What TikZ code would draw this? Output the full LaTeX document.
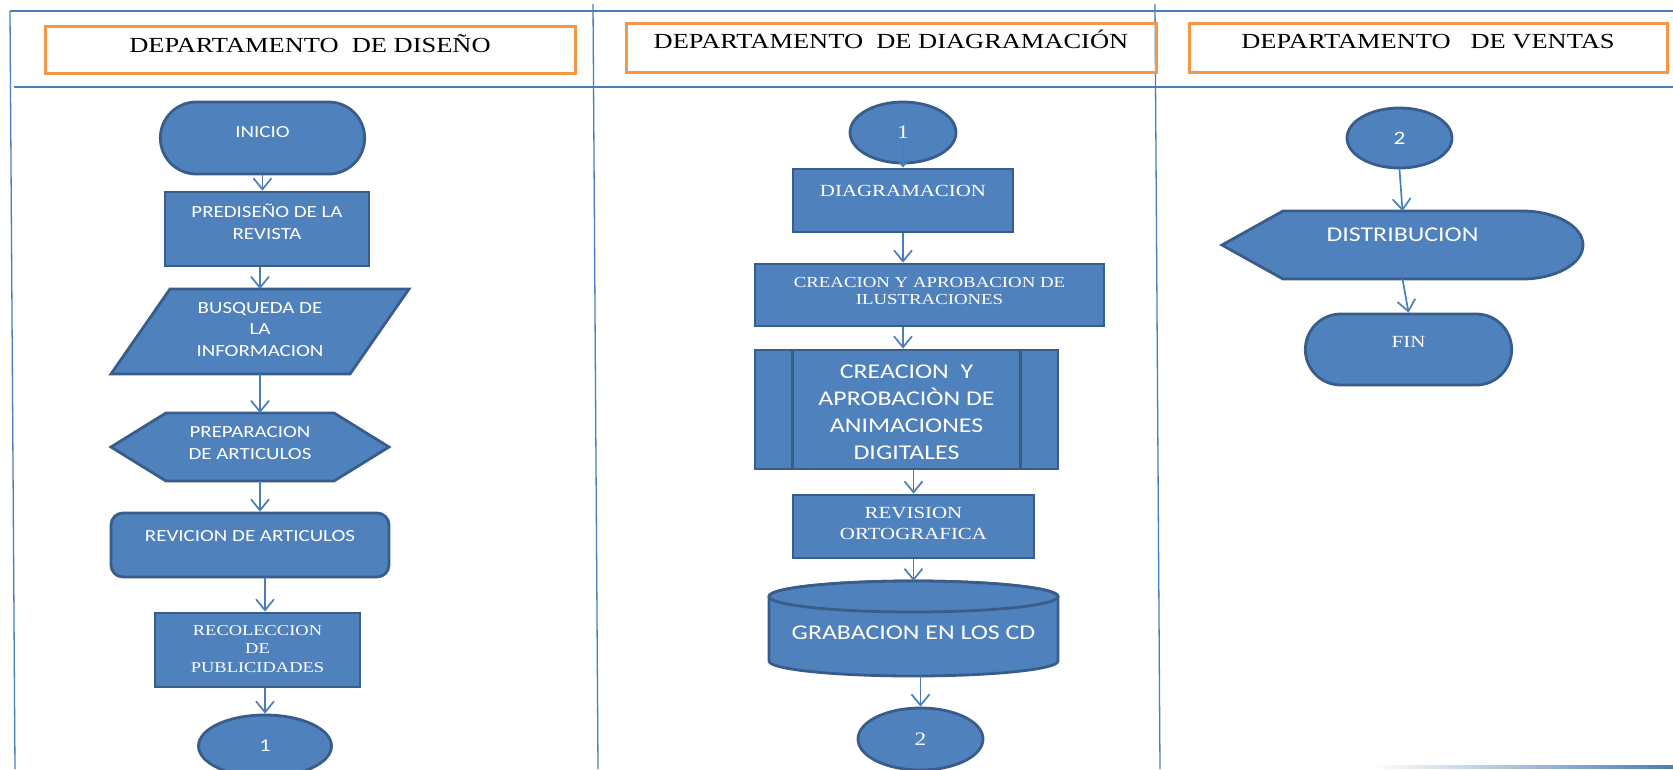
\documentclass[tikz,border=0pt]{standalone}
\usepackage{fontspec}
\setmainfont{Liberation Serif}[FakeStretch=1.23]
\newfontfamily\bodysans{Carlito}[FakeStretch=1.23]
\usetikzlibrary{arrows.meta,shapes.misc,shapes.geometric,calc,backgrounds}

\definecolor{shapefill}{HTML}{4F81BD}
\definecolor{shapeedge}{HTML}{385D8A}
\definecolor{rule}{HTML}{4A7EBB}
\definecolor{titleorange}{HTML}{F79646}

\tikzset{
  block/.style={rectangle, draw=shapeedge, fill=shapefill, line width=2.8pt, text=white, inner ysep=0pt, align=center},
  holder/.style={rectangle, inner ysep=0pt, outer sep=0pt, text=white, align=center},
  joint/.style={ellipse, draw=shapeedge, fill=shapefill, line width=2.8pt, text=white, inner sep=0pt},
  shapeline/.style={draw=shapeedge, fill=shapefill, line width=2.8pt},
  heading box/.style={rectangle, draw=titleorange, line width=3pt, inner ysep=0pt, font=\fontsize{21.5pt}{25pt}\selectfont},
  lane/.style={draw=rule, line width=1.3pt},
  flow/.style={->, draw=rule, line width=1.7pt},
  sans/.style 2 args={font=\bodysans\fontsize{#1pt}{#2pt}\selectfont},
  serif/.style 2 args={font=\fontsize{#1pt}{#2pt}\selectfont},
  tb/.style 2 args={text height=#1pt, text depth=#2pt},
}

\begin{document}
\begin{tikzpicture}[x=1pt, y=-1pt, >={Straight Barb[length=11pt,width=18pt]}]
  \useasboundingbox (0,0) rectangle (1673,769);
  \clip (0,0) rectangle (1673,769);

  % swimlanes
  \draw[lane] (10,11) -- (1673,11);
  \draw[lane] (10,11) -- (15,769);
  \draw[lane] (14,87) -- (1673,87);
  \draw[lane] (593,4) -- (598,769);
  \draw[lane] (1155,4) -- (1160,769);
  \shade[left color=white, right color=rule] (1370,765.5) rectangle (1673,768);

  % lane titles
  \node[heading box, minimum width=530pt, tb={26}{21}] (hDis) at (310,49.5) {DEPARTAMENTO~~DE DISEÑO};
  \node[heading box, minimum width=530pt, tb={25}{24}] (hDia) at (891,47.5) {DEPARTAMENTO~~DE DIAGRAMACIÓN};
  \node[heading box, minimum width=478pt, tb={25}{24}] (hVen) at (1428,47.5) {DEPARTAMENTO~~~DE VENTAS};

  % diseno
  \node[block, rounded rectangle, minimum width=211pt, sans={17}{22}, tb={35}{37}] (inicio) at (262.5,138) {INICIO};
  \node[block, minimum width=204pt, sans={17}{22}, tb={47}{27}] (predis) at (267,229) {PREDISEÑO DE LA\\REVISTA};
  \node[holder, minimum width=298pt, sans={17}{21.5}, tb={67}{18}] (busq) at (260,331.5) {BUSQUEDA DE\\LA\\INFORMACION};
  \node[holder, minimum width=278pt, sans={17}{22}, tb={46}{22}] (prep) at (250,447) {PREPARACION\\DE ARTICULOS};
  \node[block, rounded corners=12pt, minimum width=278pt, sans={17}{22}, tb={28}{36}] (revic) at (250,545) {REVICION DE ARTICULOS};
  \node[block, minimum width=205pt, serif={15}{18.5}, tb={59}{15}] (recol) at (257.5,650) {RECOLECCION\\DE\\PUBLICIDADES};
  \node[joint, minimum width=133pt, minimum height=62pt, sans={18}{22}] (oneA) at (265,746) {1};

  % diagramacion
  \node[joint, minimum width=106pt, minimum height=61pt, serif={19}{22}] (oneB) at (903,132.5) {1};
  \node[block, minimum width=220pt, serif={17}{21}, tb={27}{36}] (diag) at (903,200.5) {DIAGRAMACION};
  \node[block, minimum width=349pt, serif={15.3}{17.7}, tb={40.7}{21.3}] (ilus) at (929.5,295) {CREACION Y APROBACION DE\\ILUSTRACIONES};
  \node[block, minimum width=303pt, sans={21}{27}, tb={109}{10}] (anim) at (906.5,409.5) {CREACION~~Y\\APROBACIÒN DE\\ANIMACIONES\\DIGITALES};
  \node[block, minimum width=241pt, serif={17}{21}, tb={44}{19}] (orto) at (913.5,526.5) {REVISION\\ORTOGRAFICA};
  \node[holder, minimum width=289pt, sans={21}{25}, tb={58}{37}] (cd) at (913.5,628.5) {GRABACION EN LOS CD};
  \node[joint, minimum width=125pt, minimum height=62pt, serif={19}{22}] (twoB) at (920.5,739) {2};

  % ventas
  \node[joint, minimum width=105pt, minimum height=60pt, sans={19}{22}] (twoC) at (1399.5,138) {2};
  \node[holder, minimum width=361pt, sans={21}{25}, tb={30}{38}] (dist) at (1402.5,245) {DISTRIBUCION};
  \node[block, rounded rectangle, minimum width=213pt, serif={17}{21}, tb={33}{38}] (fin) at (1408.5,349.5) {FIN};

  % outlines behind the text holders
  \begin{scope}[on background layer]
    \fill[white] (0,0) rectangle (1673,769);
    \path[shapeline] ($(busq.north west)+(59,0)$) -- (busq.north east) -- ($(busq.south east)+(-59,0)$) -- (busq.south west) -- cycle;
    \path[shapeline] (prep.west) -- ($(prep.north west)+(55,0)$) -- ($(prep.north east)+(-55,0)$) -- (prep.east)
      -- ($(prep.south east)+(-55,0)$) -- ($(prep.south west)+(55,0)$) -- cycle;
    \path[shapeline] ($(cd.north west)+(0,15.5)$) -- ($(cd.south west)+(0,-15)$)
      arc[start angle=180, end angle=0, x radius=144.5, y radius=15] -- ($(cd.north east)+(0,15.5)$)
      arc[start angle=0, end angle=-180, x radius=144.5, y radius=15.5] -- cycle;
    \path[shapeline] ($(cd.north)+(0,15.5)$) ellipse[x radius=144.5, y radius=15.5];
    \path[shapeline] (dist.west) -- ($(dist.north west)+(61,0)$) -- ($(dist.north east)+(-61,0)$)
      arc[start angle=-90, end angle=90, x radius=61, y radius=34] -- ($(dist.south west)+(61,0)$) -- cycle;
  \end{scope}

  % side bars of the predefined process
  \draw[shapeedge, line width=2.8pt] ($(anim.north west)+(39,0)$) -- ($(anim.south west)+(39,0)$);
  \draw[shapeedge, line width=2.8pt] ($(anim.north east)+(-39,0)$) -- ($(anim.south east)+(-39,0)$);

  % connectors
  \draw[flow] (inicio.south) -- (inicio.south |- predis.north);
  \draw[flow] (busq.north |- predis.south) -- (busq.north);
  \draw[flow] (busq.south) -- (busq.south |- prep.north);
  \draw[flow] (busq.south |- prep.south) -- (busq.south |- revic.north);
  \draw[flow] (oneA.north |- revic.south) -- (oneA.north |- recol.north);
  \draw[flow] (oneA.north |- recol.south) -- (oneA.north);
  \draw[flow, shorten <=-20pt] (oneB.south) -- (diag.north);
  \draw[flow] (diag.south) -- (diag.south |- ilus.north);
  \draw[flow] (diag.south |- ilus.south) -- (diag.south |- anim.north);
  \draw[flow] (orto.north |- anim.south) -- (orto.north);
  \draw[flow] (orto.south) -- (orto.south |- cd.north);
  \draw[flow] (twoB.north |- cd.south) -- (twoB.north);
  \draw[flow] (twoC.south) -- (dist.north);
  \draw[flow] (dist.south) -- (fin.north);
\end{tikzpicture}
\end{document}
